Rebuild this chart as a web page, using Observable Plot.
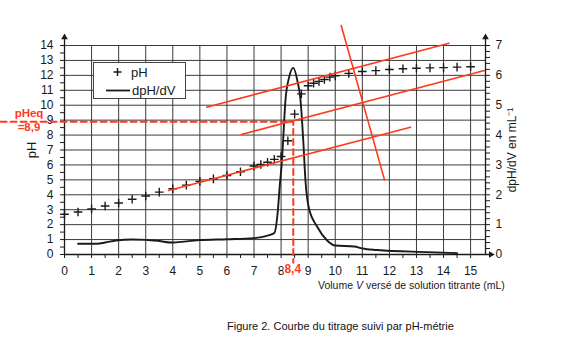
<!DOCTYPE html>
<html><head><meta charset="utf-8">
<script src="https://cdn.jsdelivr.net/npm/d3@7"></script>
<script src="https://cdn.jsdelivr.net/npm/@observablehq/plot@0.6"></script>
<style>
body{margin:0;background:#fff;font-family:"Liberation Sans",Arial,sans-serif;}
#chart{position:relative;width:567px;height:352px;}
#caption{position:absolute;left:227px;top:320px;font-size:11px;line-height:13px;color:#111;white-space:nowrap;}
</style></head><body>
<div id="chart"></div>
<script>
// pH measurements
const volumeV = [0,0.5,1,1.5,2,2.5,3,3.5,4,4.5,5,5.5,6,6.5,7,7.25,7.5,7.75,8,8.25,8.5,8.75,9,9.2,9.4,9.6,9.8,10,10.5,11,11.5,12,12.5,13,13.5,14,14.5,15];
const pHValues = [2.7,2.85,3.05,3.25,3.45,3.7,3.92,4.18,4.4,4.65,4.9,5.07,5.29,5.54,5.93,6.03,6.18,6.37,6.56,7.62,9.4,10.76,11.3,11.47,11.6,11.72,11.88,11.97,12.13,12.26,12.32,12.39,12.44,12.48,12.5,12.52,12.55,12.58];
// dpH/dV curve
const derivV = [0.5,1.2,1.5,1.9,2.5,3.0,3.5,3.95,4.5,5.0,6.0,7.0,7.5,7.75,7.88,7.95,8.02,8.08,8.16,8.3,8.45,8.6,8.72,8.82,8.9,9.02,9.34,9.7,10.0,10.7,11.0,11.55,13.4,14.5];
const derivValues = [0.36,0.36,0.4,0.47,0.5,0.49,0.45,0.4,0.44,0.48,0.51,0.55,0.63,0.72,1.47,2.3,3.0,3.9,5.15,5.95,6.25,5.83,5.15,3.8,2.48,1.58,0.92,0.47,0.3,0.27,0.2,0.15,0.08,0.045];
// tangent construction (red lines)
const tangentNames = ["low","high","middle","normal"];
const tangentV = [[3.85,12.78],[5.25,14.2],[6.53,15.51],[10.22,11.82]];
const tangentPH = [[4.29,8.53],[9.87,14.15],[8.04,12.32],[15.34,5.0]];
// equivalence point
const Veq = 8.45, pHeq = 8.9;
const eqLabels = ["pHeq", "=8,9", "8,4"];
// axes
const xTicks = d3.range(0, 31).map(i => i / 2);
const yTicks = d3.range(0, 29).map(i => i / 2);
const y2Ticks = d3.range(0, 36).map(i => i * 2 / 5); // dpH/dV every 0.2 (pH-scale = 2x)
const legendLabels = ["pH", "dpH/dV"];
const xLabel = ["Volume ", "V", " versé de solution titrante (mL)"];
const yLabel = "pH", y2Label = "dpH/dV en mL⁻¹";
const captionText = "Figure 2. Courbe du titrage suivi par pH-métrie";

const RED = "#ff3a1c", INK = "#1a1a1a", GRID = "#3a3a3a";
const pHData = volumeV.map((v, i) => ({v, ph: pHValues[i]}));
const derivData = derivV.map((v, i) => ({v, d: derivValues[i]}));
const tangentData = tangentNames.flatMap((name, k) => tangentV[k].map((v, j) => ({name, v, ph: tangentPH[k][j]})));
const xMax = 15.55;

const plot = Plot.plot({
  width: 567, height: 300,
  marginLeft: 64, marginRight: 82, marginTop: 45, marginBottom: 46,
  x: {domain: [0, xMax]},
  y: {domain: [0, 14]},
  style: {fontFamily: '"Liberation Sans", Arial, sans-serif', fontSize: "12px", color: INK, background: "white", overflow: "visible"},
  marks: [
    Plot.ruleX(d3.range(1, 16), {y1: 0, y2: 14, stroke: GRID, strokeWidth: 1}),
    Plot.ruleY(d3.range(1, 15), {x1: 0, x2: xMax, stroke: GRID, strokeWidth: 1}),
    Plot.axisX({ticks: xTicks, tickSize: 4, tickPadding: 8, tickFormat: d => Number.isInteger(d) ? d : "", label: null, stroke: INK}),
    Plot.axisY({ticks: yTicks, tickSize: 4, tickPadding: 7, tickFormat: d => Number.isInteger(d) ? d : "", label: null, stroke: INK}),
    Plot.axisY({anchor: "right", ticks: y2Ticks, tickSize: 4, tickPadding: 6,
      tickFormat: d => { const k = Math.round(d * 5 / 2); return k % 5 === 0 ? k / 5 : ""; }, label: null, stroke: INK}),
    Plot.ruleX([0], {y1: 0, y2: 14.6, stroke: INK, strokeWidth: 1.3}),
    Plot.ruleX([xMax], {y1: 0, y2: 14.6, stroke: INK, strokeWidth: 1.3}),
    Plot.ruleY([0], {x1: 0, x2: 15.75, stroke: INK, strokeWidth: 1.3}),
    Plot.dot([0, xMax], {x: d => d, y: () => 14.55, symbol: "triangle2", r: 3.2, fill: INK}),
    Plot.dot([15.75], {x: d => d, y: () => 0, symbol: "triangle2", r: 3.2, fill: INK, rotate: 90}),
    Plot.line(derivData, {x: "v", y: d => d.d * 2, curve: "monotone-x", stroke: INK, strokeWidth: 1.9}),
    Plot.dot(pHData, {x: "v", y: "ph", symbol: "plus", r: 2.9, stroke: INK, strokeWidth: 1.4}),
    Plot.line(tangentData, {x: "v", y: "ph", z: "name", stroke: RED, strokeWidth: 1.6}),
    Plot.line([{v: -2.36, ph: pHeq}, {v: Veq, ph: pHeq}, {v: Veq, ph: -0.55}], {x: "v", y: "ph", stroke: RED, strokeWidth: 2, strokeDasharray: "6,4"})
  ]
});

const xs = plot.scale("x"), ys = plot.scale("y");
const svg = d3.select(plot);
const font = '"Liberation Sans", Arial, sans-serif';
const txt = (sel) => sel.attr("font-family", font);
// equivalence labels
txt(svg.append("text")).attr("x", 29).attr("y", ys.apply(pHeq) - 8.5).attr("text-anchor", "middle").attr("dy", "0.35em")
  .attr("fill", RED).attr("font-weight", "bold").attr("font-size", 11.5).text(eqLabels[0]);
txt(svg.append("text")).attr("x", 29).attr("y", ys.apply(pHeq) + 6).attr("text-anchor", "middle").attr("dy", "0.35em")
  .attr("fill", RED).attr("font-weight", "bold").attr("font-size", 11.5).text(eqLabels[1]);
txt(svg.append("text")).attr("x", xs.apply(Veq)).attr("y", ys.apply(0) + 15).attr("text-anchor", "middle").attr("dy", "0.35em")
  .attr("fill", RED).attr("font-weight", "bold").attr("font-size", 12)
  .attr("stroke", "white").attr("stroke-width", 3).attr("paint-order", "stroke").text(eqLabels[2]);
// axis labels
const xl = txt(svg.append("text")).attr("x", 318).attr("y", 289).attr("text-anchor", "start").attr("font-size", 10.5).attr("fill", INK);
xl.append("tspan").text(xLabel[0]);
xl.append("tspan").attr("font-style", "italic").text(xLabel[1]);
xl.append("tspan").text(xLabel[2]);
txt(svg.append("text")).attr("transform", "translate(31,150) rotate(-90)").attr("text-anchor", "middle").attr("dy", "0.35em")
  .attr("font-size", 13).attr("fill", INK).text(yLabel);
txt(svg.append("text")).attr("transform", "translate(512,150) rotate(-90)").attr("text-anchor", "middle").attr("dy", "0.35em")
  .attr("font-size", 12).attr("fill", INK).text(y2Label);
// legend
const lg = svg.append("g");
lg.append("rect").attr("x", 93.5).attr("y", 62.5).attr("width", 92).attr("height", 36).attr("fill", "white").attr("stroke", "#444");
lg.append("path").attr("d", "M113.5,72h8M117.5,68v8").attr("stroke", INK).attr("stroke-width", 1.5);
txt(lg.append("text")).attr("x", 131).attr("y", 72).attr("dy", "0.35em").attr("text-anchor", "start").attr("font-size", 13).attr("fill", INK).text(legendLabels[0]);
lg.append("line").attr("x1", 106).attr("x2", 130).attr("y1", 90.5).attr("y2", 90.5).attr("stroke", INK).attr("stroke-width", 1.8);
txt(lg.append("text")).attr("x", 132).attr("y", 90.5).attr("dy", "0.35em").attr("text-anchor", "start").attr("font-size", 13).attr("fill", INK).text(legendLabels[1]);

const chart = document.getElementById("chart");
chart.appendChild(plot);
const cap = document.createElement("div");
cap.id = "caption"; cap.textContent = captionText;
chart.appendChild(cap);
</script>
</body></html>
